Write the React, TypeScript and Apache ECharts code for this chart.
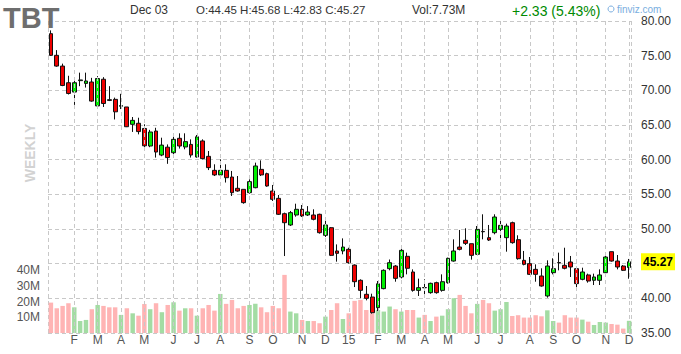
import React, { useEffect, useRef } from "react";
import * as echarts from "echarts";

const opens = [78.17,75.05,73.5,71.1,69.75,71.4,71.0,71.2,67.75,71.6,68.65,68.7,67.7,67.6,65.1,65.25,64.5,61.97,64.13,60.67,61.8,61.0,63.08,61.83,62.2,60.38,62.7,60.48,58.46,57.8,58.46,57.5,55.87,55.72,55.24,55.96,58.6,57.98,55.48,54.42,52.21,50.58,52.02,52.84,52.02,52.02,52.12,49.09,50.19,46.83,46.83,47.07,44.8,42.6,40.58,40.19,38.65,41.4,44.28,44.66,43.08,46.06,43.8,41.15,41.56,40.82,42.26,41.15,42.26,45.38,47.4,48.37,47.88,46.35,49.65,48.75,49.47,49.95,48.75,50.91,48.46,45.48,45.0,44.18,43.22,40.34,43.7,45.16,44.76,45.24,44.28,42.74,43.37,42.6,42.6,43.7,46.73,45.38,44.66,44.45];
const closes = [75.05,73.5,70.7,69.55,71.1,71.5,71.35,68.45,71.7,68.1,68.55,66.9,67.8,64.75,65.67,64.05,62.0,63.99,61.1,62.1,60.3,62.93,61.97,62.6,60.67,63.3,60.15,58.85,57.8,58.46,57.4,55.24,55.48,53.8,56.83,59.09,57.8,56.2,54.28,52.12,50.91,52.36,52.84,51.88,52.45,51.4,49.47,50.58,46.2,46.49,47.4,45.14,42.4,41.15,40.0,37.93,42.1,44.04,45.14,42.88,46.92,44.33,41.15,41.54,41.52,42.16,40.82,42.4,45.77,46.83,47.07,47.93,46.2,49.95,49.6,48.41,51.73,50.53,50.43,48.03,45.72,44.9,43.46,43.46,41.78,44.66,44.28,45.12,44.33,44.52,42.12,43.8,42.5,43.08,43.37,45.96,45.38,44.52,44.04,45.27];
const lows = [74.95,73.4,70.6,69.4,67.9,70.6,70.4,68.35,67.5,67.6,68.45,65.8,67.3,64.7,64.0,63.65,61.7,61.8,60.3,60.5,59.4,60.5,61.6,61.5,60.3,60.3,60.05,58.5,57.64,57.4,56.7,54.76,55.38,53.65,55.1,55.87,57.64,56.1,54.04,52.02,46.1,50.43,51.78,51.73,51.88,51.25,49.33,48.85,46.1,45.29,46.35,45.0,41.63,40.0,39.71,37.79,38.17,41.3,44.04,42.4,42.88,43.46,40.96,40.34,40.48,40.67,40.67,40.96,42.12,45.29,46.92,47.69,45.58,46.25,48.51,48.27,49.23,48.51,46.73,47.88,45.58,44.76,43.37,42.4,41.68,40.1,43.46,44.04,44.18,43.08,41.15,42.6,42.26,41.92,41.92,43.56,45.29,44.18,43.94,42.83];
const highs = [78.65,75.8,73.85,72.1,71.6,72.55,72.55,71.8,72.05,71.9,70.6,68.95,69.5,67.6,66.15,66.05,65.1,64.3,64.6,63.17,62.2,63.4,63.8,63.8,62.93,63.56,62.93,61.25,59.33,60.05,59.33,58.37,57.64,55.72,57.16,59.57,59.9,58.12,56.35,54.9,52.36,52.6,53.65,53.46,53.3,52.84,52.21,51.25,50.29,47.78,48.65,47.3,44.9,42.74,41.78,40.67,42.5,44.18,45.6,44.8,47.3,46.59,44.18,42.84,42.74,42.26,42.4,43.46,45.87,48.51,49.86,50.1,47.88,50.43,52.12,50.58,52.12,51.25,50.77,51.06,49.09,46.83,45.96,44.9,44.33,45.48,45.77,46.59,47.3,46.11,44.28,44.42,43.56,43.56,44.18,46.11,46.73,46.25,44.8,45.68];
const volumesM = [19.3,15.7,17.2,18.9,16.3,7.6,8.3,15.1,17.8,17.2,16.3,16.3,11.5,15.7,12.5,11.0,18.4,15.1,18.9,13.2,17.8,19.5,14.2,15.7,15.7,11.0,15.7,17.8,14.2,24.8,18.5,21.0,15.7,17.2,17.8,18.5,16.3,13.2,17.2,15.7,36.9,13.6,12.5,8.3,7.6,7.6,6.2,10.4,14.6,18.9,8.9,12.5,20.4,21.0,14.6,12.5,14.6,13.6,16.8,15.1,13.6,14.6,14.6,9.8,11.5,7.6,10.4,11.0,15.1,22.1,24.2,17.2,12.5,18.5,21.0,18.9,14.2,15.1,19.7,10.8,11.3,9.8,9.8,11.3,10.6,14.4,7.6,6.6,11.3,9.8,9.8,8.5,7.2,5.1,7.0,6.6,5.7,5.3,2.8,7.73];

const firstWeek = "2014-01-06";
const tickWeeks = [4,8,12,16,21,25,29,34,38,43,47,51,56,60,64,68,73,77,82,86,90,95,99];
const tickLabels = ["F","M","A","M","J","J","A","S","O","N","D","15","F","M","A","M","J","J","A","S","O","N","D"];
const priceTicks = { min: 35, max: 80, step: 5 };
const volumeTicks = { min: 0, max: 40, step: 10 };

const weeks: string[] = [];
{
  const d0 = new Date(firstWeek + "T00:00:00Z");
  for (let i = 0; i < opens.length; i++) {
    const d = new Date(d0.getTime() + i * 7 * 86400000);
    weeks.push(d.toISOString().slice(0, 10));
  }
}

const FONT = "'Liberation Sans', Arial, sans-serif";

export default function App() {
  const ref = useRef<HTMLDivElement>(null);
  useEffect(() => {
    if (!ref.current) return;
    const chart = echarts.init(ref.current, undefined, { renderer: "svg" });
    const candles = opens.map((o, i) => [o, closes[i], lows[i], highs[i]]);
    const lastClose = closes[closes.length - 1];
    const vols = volumesM.map((v, i) => ({
      value: v,
      itemStyle: { color: closes[i] >= opens[i] ? "#a3dca3" : "#ffb4b4" },
    }));
    const gridL = 48, gridW = 584, gridT = 21, gridH = 312;
    chart.setOption({
      animation: false,
      textStyle: { fontFamily: FONT },
      grid: [
        { left: gridL, top: gridT, width: gridW, height: gridH },
        { left: gridL, top: 270, width: gridW, height: 63 },
      ],
      xAxis: [
        {
          type: "category",
          gridIndex: 0,
          data: weeks,
          boundaryGap: true,
          axisLine: { show: false },
          axisTick: { show: false },
          splitLine: { show: false },
          axisLabel: {
            interval: (i: number) => tickWeeks.includes(i),
            formatter: (_v: string, i: number) => {
              const k = tickWeeks.indexOf(i);
              return k >= 0 ? tickLabels[k] : "";
            },
            color: "#555",
            fontSize: 12,
            margin: 1,
            fontFamily: FONT,
          },
        },
        {
          type: "category",
          gridIndex: 1,
          data: weeks,
          boundaryGap: true,
          show: false,
        },
      ],
      yAxis: [
        {
          type: "value",
          gridIndex: 0,
          position: "right",
          min: priceTicks.min,
          max: priceTicks.max,
          interval: priceTicks.step,
          axisLine: { show: false },
          axisTick: { show: false },
          axisLabel: {
            formatter: (v: number) => (Math.abs(v - lastClose) < 2 ? "" : v.toFixed(2)),
            color: "#333",
            fontSize: 12,
            margin: 9,
            fontFamily: FONT,
          },
          splitLine: { show: true, lineStyle: { color: "#c8c8c8", type: [4, 3], width: 1 } },
        },
        {
          type: "value",
          gridIndex: 1,
          position: "left",
          min: volumeTicks.min,
          max: volumeTicks.max,
          interval: volumeTicks.step,
          axisLine: { show: false },
          axisTick: { show: false },
          splitLine: { show: false },
          axisLabel: {
            formatter: (v: number) => (v === 0 ? "" : v + "M"),
            color: "#555",
            fontSize: 12,
            margin: 8,
            fontFamily: FONT,
          },
        },
      ],
      series: [
        {
          type: "line",
          xAxisIndex: 0,
          yAxisIndex: 0,
          data: [],
          z: 0,
          markLine: {
            silent: true,
            symbol: ["none", "none"],
            label: { show: false },
            lineStyle: { color: "#c8c8c8", type: [4, 3], width: 1 },
            data: tickWeeks.map((i) => ({ xAxis: i })),
          },
        },
        {
          type: "bar",
          xAxisIndex: 1,
          yAxisIndex: 1,
          data: vols,
          barWidth: "76%",
          z: 1,
        },
        {
          type: "candlestick",
          xAxisIndex: 0,
          yAxisIndex: 0,
          data: candles,
          barWidth: "74%",
          z: 3,
          itemStyle: {
            color: "#00ee00",
            color0: "#ee0000",
            borderColor: "#111",
            borderColor0: "#111",
            borderWidth: 1,
          },
        },
      ],
      graphic: [
        { type: "line", shape: { x1: gridL + 0.5, y1: gridT, x2: gridL + 0.5, y2: gridT + gridH }, style: { stroke: "#c8c8c8", lineDash: [4, 3], lineWidth: 1 }, z: 0 },
        { type: "line", shape: { x1: gridL + gridW - 0.5, y1: gridT, x2: gridL + gridW - 0.5, y2: gridT + gridH }, style: { stroke: "#c8c8c8", lineDash: [4, 3], lineWidth: 1 }, z: 0 },
        { type: "text", left: 3, top: 3, style: { text: "TBT", font: "bold 29px " + FONT, fill: "#6e6e6e" }, z: 10 },
        { type: "text", x: 30, y: 153, rotation: Math.PI / 2, style: { text: "WEEKLY", font: "bold 14px " + FONT, fill: "#d2d2d2", textAlign: "center", textVerticalAlign: "middle" } },
        { type: "text", x: 130, y: 10, style: { text: "Dec 03", font: "12px " + FONT, fill: "#333", textVerticalAlign: "middle" } },
        { type: "text", x: 196, y: 10, style: { text: "O:44.45 H:45.68 L:42.83 C:45.27", font: "11.5px " + FONT, fill: "#333", textVerticalAlign: "middle" } },
        { type: "text", x: 412, y: 10, style: { text: "Vol:7.73M", font: "12px " + FONT, fill: "#333", textVerticalAlign: "middle" } },
        { type: "text", x: 512, y: 11, style: { text: "+2.33 (5.43%)", font: "14px " + FONT, fill: "#008a00", textVerticalAlign: "middle" } },
        { type: "circle", shape: { cx: 611, cy: 9, r: 3 }, style: { stroke: "#7aaee0", fill: "none", lineWidth: 1 } },
        { type: "text", x: 617, y: 9, style: { text: "finviz.com", font: "10px " + FONT, fill: "#7aaee0", textVerticalAlign: "middle" } },
      ],
    });
    const yPx = chart.convertToPixel({ yAxisIndex: 0 }, lastClose) as number;
    chart.setOption({
      graphic: [
        {
          id: "lastPrice",
          type: "text",
          x: gridL + gridW + 9,
          y: yPx,
          z: 20,
          style: {
            text: lastClose.toFixed(2),
            font: "bold 12px " + FONT,
            fill: "#000",
            textVerticalAlign: "middle",
            backgroundColor: "#ffff00",
            padding: [3, 2, 2, 2],
          },
        },
      ],
    });
    return () => chart.dispose();
  }, []);
  return <div ref={ref} style={{ width: 681, height: 354, position: "absolute", left: 0, top: 0 }} />;
}
